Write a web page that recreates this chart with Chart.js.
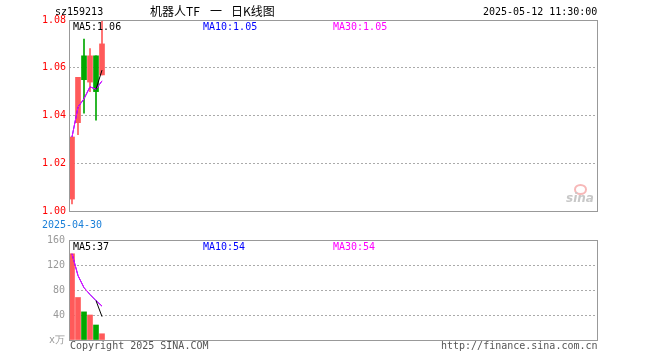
<!DOCTYPE html>
<html>
<head>
<meta charset="utf-8">
<script src="https://cdn.jsdelivr.net/npm/chart.js@4.4.1/dist/chart.umd.min.js"></script>
<style>
  body { margin: 0; background: #fff; }
  #wrap { position: relative; width: 660px; height: 360px; overflow: hidden; font-family: "DejaVu Sans Mono", monospace; font-size: 10px; }
  canvas { position: absolute; left: 0; }
  .t { position: absolute; white-space: nowrap; line-height: 12px; }
  .cn { font-family: 'Noto Sans CJK SC'; font-size: 12px; color: #000; top: 5px; }
</style>
</head>
<body>
<div id="wrap">
  <canvas id="kChart" width="660" height="240" style="top:0"></canvas>
  <canvas id="volChart" width="660" height="130" style="top:230px"></canvas>

  <div class="t" style="left:55px;top:6px;color:#000">sz159213</div>
  <div class="t cn" style="left:150px">机器人TF</div>
  <div class="t cn" style="left:210px">一</div>
  <div class="t cn" style="left:231px">日K线图</div>
  <div class="t" style="left:483px;top:6px;color:#000">2025-05-12 11:30:00</div>

  <div class="t" style="left:73px;top:21px;color:#000">MA5:1.06</div>
  <div class="t" style="left:203px;top:21px;color:#0000ff">MA10:1.05</div>
  <div class="t" style="left:333px;top:21px;color:#ff00ff">MA30:1.05</div>

  <div class="t" style="left:73px;top:241px;color:#000">MA5:37</div>
  <div class="t" style="left:203px;top:241px;color:#0000ff">MA10:54</div>
  <div class="t" style="left:333px;top:241px;color:#ff00ff">MA30:54</div>

  <div style="position:absolute;left:574px;top:184px;width:9px;height:7px;border:2px solid #f7b8b8;border-radius:50%"></div>
  <div class="t" style="left:566px;top:192px;color:#c8c8c8;font-family:'DejaVu Sans';font-weight:bold;font-style:italic;font-size:12px">sina</div>

  <div class="t" style="left:70px;top:340px;color:#555">Copyright 2025 SINA.COM</div>
  <div class="t" style="left:441px;top:340px;color:#555">http://finance.sina.com.cn</div>
</div>
<script>
// daily K data
const dates = ['2025-04-30', '2025-05-06', '2025-05-07', '2025-05-08', '2025-05-09', '2025-05-12'];
const open  = [1.005, 1.037, 1.065, 1.054, 1.065, 1.057];
const close = [1.031, 1.056, 1.055, 1.065, 1.050, 1.070];
const high  = [1.031, 1.056, 1.072, 1.068, 1.065, 1.080];
const low   = [1.003, 1.032, 1.041, 1.050, 1.038, 1.057];
const ma5   = [null, null, null, null, 1.051, 1.059];
const ma10  = [1.031, 1.0435, 1.047, 1.052, 1.051, 1.0545];
const ma30  = [1.031, 1.0435, 1.047, 1.052, 1.051, 1.0545];

const volume = [138, 68, 45, 40, 24, 10];   // x万
const volMa5  = [null, null, null, null, 63, 37.4];
const volMa10 = [138, 103, 83.7, 72.8, 63, 54.2];
const volMa30 = [138, 103, 83.7, 72.8, 63, 54.2];

const priceTicks = [1.00, 1.02, 1.04, 1.06, 1.08];
const volTicks = [0, 40, 80, 120, 160];

const SLOTS = 88;
const labels = [];
for (let i = 0; i < SLOTS; i++) labels.push(i < dates.length ? dates[i] : '');

const RED = '#ff5a5a', GREEN = '#00a800';
const candleColor = open.map((o, i) => close[i] >= o ? RED : GREEN);

const frame = {
  id: 'frame',
  afterDraw(chart) {
    const a = chart.chartArea, c = chart.ctx;
    c.save();
    c.strokeStyle = '#999';
    c.lineWidth = 1;
    c.strokeRect(Math.round(a.left) + 0.5, Math.round(a.top) + 0.5, Math.round(a.right - a.left), Math.round(a.bottom - a.top));
    c.restore();
  }
};

const mono = { family: 'DejaVu Sans Mono', size: 10 };

function lineSet(data, color, order) {
  return { type: 'line', data, borderColor: color, borderWidth: 1, pointRadius: 0, tension: 0, order };
}

new Chart(document.getElementById('kChart'), {
  data: {
    labels,
    datasets: [
      lineSet(ma5, '#000', 0),
      lineSet(ma30, '#ff00ff', 1),
      lineSet(ma10, '#0000ff', 2),
      { type: 'bar', data: open.map((o, i) => [o, close[i]]), backgroundColor: candleColor,
        barThickness: 5, grouped: false, order: 3 },
      { type: 'bar', data: low.map((l, i) => [l, high[i]]), backgroundColor: candleColor,
        barThickness: 1, grouped: false, order: 4 }
    ]
  },
  options: {
    responsive: false, animation: false, devicePixelRatio: 1,
    layout: { padding: { left: 0, right: 63, top: 20, bottom: 0 } },
    plugins: { legend: { display: false }, tooltip: { enabled: false } },
    scales: {
      x: {
        type: 'category', offset: true,
        grid: { display: false }, border: { display: false },
        ticks: { autoSkip: false, maxRotation: 0, padding: 0, color: '#1a7fd8', font: mono,
                 callback: (v, i) => i === 0 ? labels[0] : '' },
        afterFit: (s) => { s.height = 29; }
      },
      y: {
        min: 1.00, max: 1.08,
        afterBuildTicks: (s) => { s.ticks = priceTicks.map(v => ({ value: v })); },
        ticks: { color: '#ff0000', font: mono, padding: 3,
                 callback: (v) => v.toFixed(2) },
        grid: { color: (ctx) => (ctx.index === 0 || ctx.index === priceTicks.length - 1) ? 'rgba(0,0,0,0)' : '#aaa',
                drawTicks: false },
        border: { display: false, dash: [2, 2] },
        afterFit: (s) => { s.width = 69; }
      }
    }
  },
  plugins: [frame]
});

new Chart(document.getElementById('volChart'), {
  data: {
    labels,
    datasets: [
      lineSet(volMa5, '#000', 0),
      lineSet(volMa30, '#ff00ff', 1),
      lineSet(volMa10, '#0000ff', 2),
      { type: 'bar', data: volume, backgroundColor: candleColor, barThickness: 5, grouped: false, order: 3 }
    ]
  },
  options: {
    responsive: false, animation: false, devicePixelRatio: 1,
    layout: { padding: { left: 0, right: 63, top: 10, bottom: 20 } },
    plugins: { legend: { display: false }, tooltip: { enabled: false } },
    scales: {
      x: { type: 'category', offset: true, display: false },
      y: {
        min: 0, max: 160,
        afterBuildTicks: (s) => { s.ticks = volTicks.map(v => ({ value: v })); },
        ticks: { color: '#999', font: mono, padding: 4,
                 callback: (v) => v === 0 ? 'x万' : String(v) },
        grid: { color: (ctx) => (ctx.index === 0 || ctx.index === volTicks.length - 1) ? 'rgba(0,0,0,0)' : '#aaa',
                drawTicks: false },
        border: { display: false, dash: [2, 2] },
        afterFit: (s) => { s.width = 69; }
      }
    }
  },
  plugins: [frame]
});
</script>
</body>
</html>
